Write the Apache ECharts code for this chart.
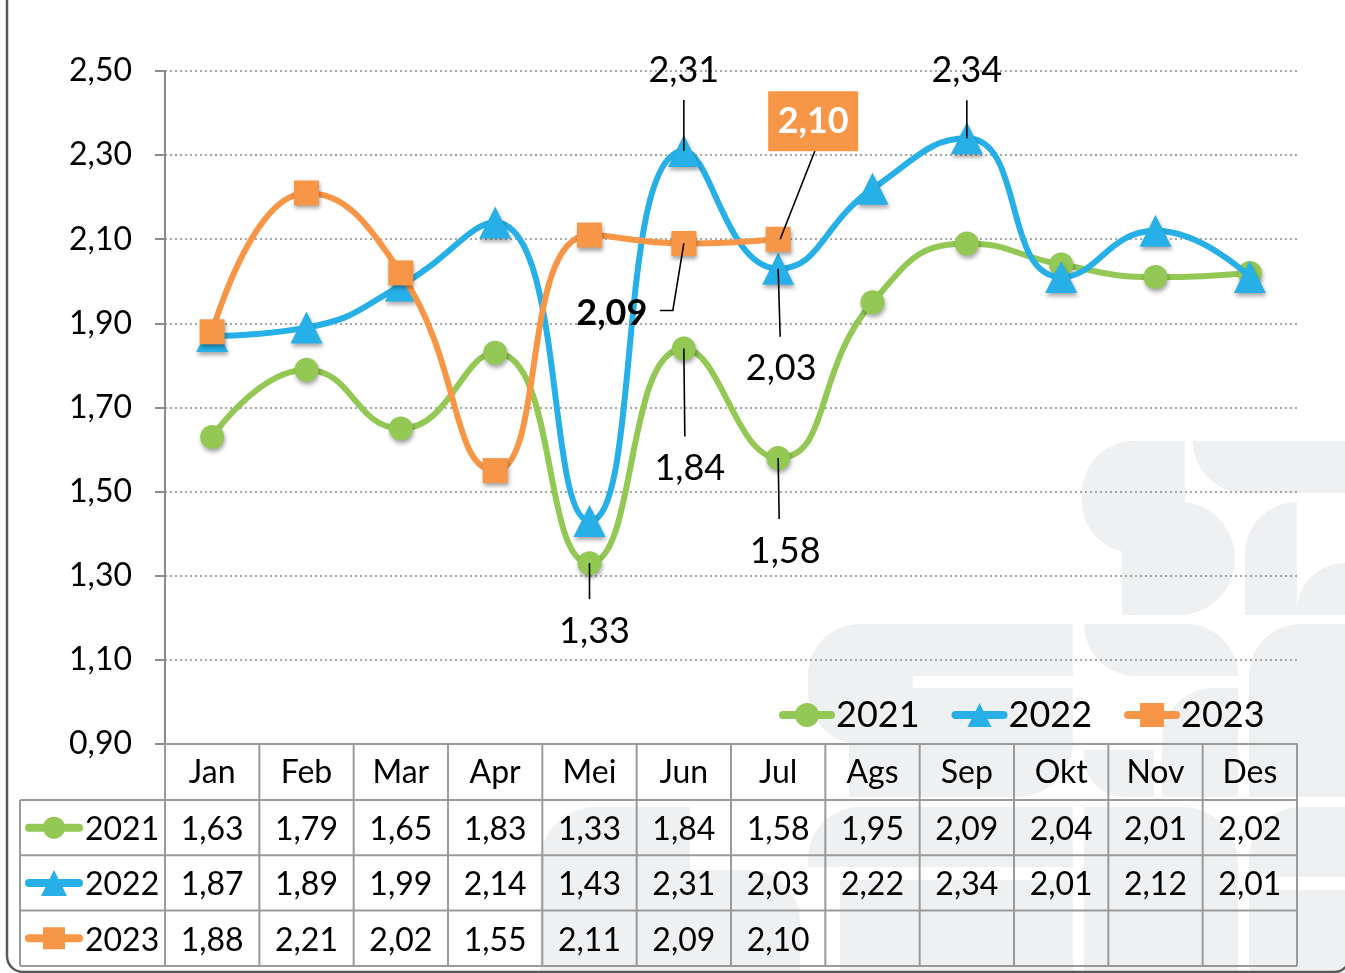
<!DOCTYPE html>
<html>
<head>
<meta charset="utf-8">
<script src="https://cdn.jsdelivr.net/npm/echarts@6/dist/echarts.min.js"></script>
<style>
  html, body { margin: 0; padding: 0; background: #ffffff; }
  #chart { width: 1345px; height: 973px; }
</style>
</head>
<body>
<div id="chart"></div>
<script>
// Monthly values per year
const months = ['Jan', 'Feb', 'Mar', 'Apr', 'Mei', 'Jun', 'Jul', 'Ags', 'Sep', 'Okt', 'Nov', 'Des'];
const yearNames = ['2021', '2022', '2023'];
const values2021 = [1.63, 1.79, 1.65, 1.83, 1.33, 1.84, 1.58, 1.95, 2.09, 2.04, 2.01, 2.02];
const values2022 = [1.87, 1.89, 1.99, 2.14, 1.43, 2.31, 2.03, 2.22, 2.34, 2.01, 2.12, 2.01];
const values2023 = [1.88, 2.21, 2.02, 1.55, 2.11, 2.09, 2.10];
const yMin = 0.9, yMax = 2.5, yStep = 0.2;

const GREEN = '#92c853', BLUE = '#27b0e7', ORANGE = '#f79646';
const FONT = 'Lato, "Noto Sans", sans-serif';
const fmt = v => v.toFixed(2).replace('.', ',');

const seriesDefs = [
  { name: yearNames[0], data: values2021, color: GREEN, symbol: 'circle', size: 24 },
  { name: yearNames[1], data: values2022, color: BLUE, symbol: 'triangle', size: 32 },
  { name: yearNames[2], data: values2023, color: ORANGE, symbol: 'rect', size: 25 }
];

const chart = echarts.init(document.getElementById('chart'), null, { renderer: 'canvas' });

chart.setOption({
  animation: false,
  backgroundColor: '#ffffff',
  grid: { left: 165, right: 48, top: 71, bottom: 229, containLabel: false },
  legend: {
    data: yearNames,
    left: 774, top: 692,
    itemWidth: 48, itemHeight: 30, itemGap: 32,
    lineStyle: { width: 8, cap: 'round' },
    itemStyle: { borderWidth: 0 },
    textStyle: { fontFamily: FONT, fontSize: 36, color: '#000' }
  },
  xAxis: {
    type: 'category',
    data: months,
    boundaryGap: true,
    axisLine: { show: true, lineStyle: { color: '#9a9a9a', width: 2 } },
    axisTick: { show: false },
    axisLabel: { fontFamily: FONT, fontSize: 32, color: '#000', margin: 9, lineHeight: 40 },
    splitLine: { show: false }
  },
  yAxis: {
    type: 'value',
    min: yMin, max: yMax, interval: yStep,
    axisLine: { show: true, lineStyle: { color: '#8c8c8c', width: 2 } },
    axisTick: { show: true, length: 10, lineStyle: { color: '#8c8c8c', width: 2 } },
    axisLabel: { fontFamily: FONT, fontSize: 32, color: '#000', margin: 33, formatter: v => fmt(v) },
    splitLine: { show: true, lineStyle: { color: '#8a8a8a', width: 1.5, type: [2, 3] } }
  },
  series: seriesDefs.map((d, k) => ({
    name: d.name,
    type: 'line',
    data: d.data,
    smooth: 0.5,
    symbol: d.symbol,
    symbolSize: d.size,
    z: 2 + k,
    lineStyle: { color: d.color, width: 6 },
    itemStyle: {
      color: d.color,
      shadowColor: 'rgba(0,0,0,0.35)', shadowBlur: 4, shadowOffsetX: 1, shadowOffsetY: 3
    },
    label: { show: false },
    emphasis: { disabled: true }
  }))
});

// Callout placement for selected points: label centre offset and leader line
const callouts = [
  { s: 0, i: 4, dx: 5, dy: 68, line: [[0, 0], [0, 36]] },
  { s: 0, i: 5, dx: 6, dy: 120, line: [[0, 0], [1, 88]] },
  { s: 0, i: 6, dx: 7, dy: 93, line: [[0, 0], [1, 61]] },
  { s: 1, i: 5, dx: 0, dy: -81, line: [[0, -51], [0, 0]] },
  { s: 1, i: 6, dx: 3, dy: 100, line: [[0, 0], [2, 68]] },
  { s: 1, i: 8, dx: 0, dy: -68, line: [[0, -38], [0, 0]] },
  { s: 2, i: 5, dx: -72, dy: 70, bold: true, line: [[0, 0], [-11, 67], [-24, 67]] },
  { s: 2, i: 6, dx: 35, dy: -118, box: true, line: [[2, 0], [37, -89]] }
];

// Faint background emblem shapes
const emblem = [
  [1082, 441, 103, 112, [52, 0, 0, 52]],
  [1122, 502, 113, 113, [0, 56, 56, 0]],
  [1193, 441, 152, 52, [0, 0, 0, 52]],
  [1245, 502, 52, 113, [52, 0, 0, 0]],
  [1297, 563, 48, 52, [48, 0, 0, 0]],
  [808, 624, 265, 52, [52, 0, 0, 0]],
  [808, 624, 105, 120, [52, 0, 0, 52]],
  [849, 688, 224, 109, [0, 0, 56, 0]],
  [1084, 624, 154, 52, [0, 52, 0, 52]],
  [1162, 688, 76, 109, [52, 0, 0, 0]],
  [1249, 624, 96, 173, [52, 0, 0, 0]],
  [1084, 750, 70, 47, [0, 0, 0, 40]],
  [540, 807, 150, 166, [56, 0, 0, 0]],
  [600, 870, 200, 103, [0, 52, 0, 0]],
  [808, 807, 265, 60, [52, 0, 0, 0]],
  [840, 880, 233, 93, [0, 0, 0, 0]],
  [1084, 807, 154, 166, [0, 56, 0, 0]],
  [1249, 807, 96, 70, [52, 0, 0, 0]],
  [1249, 890, 96, 83, [0, 0, 0, 0]]
];

function symbolShape(kind, cx, cy, color, sz) {
  if (kind === 'circle') return { type: 'circle', shape: { cx, cy, r: sz / 2 }, style: { fill: color } };
  if (kind === 'rect') return { type: 'rect', shape: { x: cx - sz / 2, y: cy - sz / 2, width: sz, height: sz }, style: { fill: color } };
  return { type: 'polygon', shape: { points: [[cx, cy - sz / 2], [cx + sz / 2, cy + sz / 2], [cx - sz / 2, cy + sz / 2]] }, style: { fill: color } };
}

function buildOverlay() {
  const g = [];
  const p0 = chart.convertToPixel({ gridIndex: 0 }, [0, yMin]);
  const p1 = chart.convertToPixel({ gridIndex: 0 }, [1, yMin]);
  const step = p1[0] - p0[0];
  const left = p0[0] - step / 2;
  const right = left + step * months.length;
  const axisY = p0[1];
  const headerH = 56, rowH = 55.3;
  const tableLeft = 20;
  const rowsTop = axisY + headerH;
  const tableBottom = rowsTop + rowH * seriesDefs.length;
  const gridColor = '#9a9a9a';

  // emblem
  emblem.forEach(([x, y, w, h, r]) => {
    g.push({ type: 'rect', z: -10, silent: true,
      shape: { x, y, width: w, height: Math.min(h, 973 - y), r },
      style: { fill: '#eff0f2' } });
  });

  // outer frame
  g.push({ type: 'rect', z: 50, silent: true,
    shape: { x: 7, y: -30, width: 1343, height: 1002, r: 16 },
    style: { fill: 'none', stroke: '#595959', lineWidth: 2.5 } });

  // data table grid
  for (let r = 0; r <= seriesDefs.length; r++) {
    const y = rowsTop + r * rowH;
    g.push({ type: 'line', z: 5, silent: true, shape: { x1: tableLeft, y1: y, x2: right, y2: y },
      style: { stroke: gridColor, lineWidth: 2 } });
  }
  g.push({ type: 'line', z: 5, silent: true, shape: { x1: tableLeft, y1: rowsTop, x2: tableLeft, y2: tableBottom },
    style: { stroke: gridColor, lineWidth: 2 } });
  for (let k = 0; k <= months.length; k++) {
    const x = left + k * step;
    g.push({ type: 'line', z: 5, silent: true, shape: { x1: x, y1: axisY, x2: x, y2: tableBottom },
      style: { stroke: gridColor, lineWidth: 2 } });
  }

  // table rows
  seriesDefs.forEach((d, r) => {
    const cy = rowsTop + (r + 0.5) * rowH;
    g.push({ type: 'line', z: 6, silent: true, shape: { x1: 29, y1: cy, x2: 79, y2: cy },
      style: { stroke: d.color, lineWidth: 8, lineCap: 'round' } });
    const ms = d.symbol === 'triangle' ? 26 : 22;
    g.push(Object.assign({ z: 7, silent: true }, symbolShape(d.symbol, 54, cy, d.color, ms)));
    g.push({ type: 'text', z: 7, silent: true,
      style: { x: 85, y: cy + 2, text: d.name, textAlign: 'left', textVerticalAlign: 'middle',
        fontFamily: FONT, fontSize: 32, fill: '#000' } });
    d.data.forEach((v, i) => {
      g.push({ type: 'text', z: 7, silent: true,
        style: { x: left + (i + 0.5) * step, y: cy + 2, text: fmt(v), textAlign: 'center', textVerticalAlign: 'middle',
          fontFamily: FONT, fontSize: 32, fill: '#000' } });
    });
  });

  // callouts
  callouts.forEach(c => {
    const d = seriesDefs[c.s];
    const v = d.data[c.i];
    const [px, py] = chart.convertToPixel({ gridIndex: 0 }, [c.i, v]);
    g.push({ type: 'polyline', z: 8, silent: true,
      shape: { points: c.line.map(([a, b]) => [px + a, py + b]) },
      style: { stroke: '#000', lineWidth: 1.6, fill: 'none' } });
    const lx = px + c.dx, ly = py + c.dy;
    if (c.box) {
      g.push({ type: 'rect', z: 9, silent: true,
        shape: { x: lx - 45, y: ly - 30, width: 90, height: 60 }, style: { fill: d.color } });
    }
    g.push({ type: 'text', z: 10, silent: true,
      style: { x: lx, y: ly, text: fmt(v), textAlign: 'center', textVerticalAlign: 'middle',
        fontFamily: FONT, fontSize: 36, fontWeight: (c.bold || c.box) ? 'bold' : 'normal',
        fill: c.box ? '#ffffff' : '#000' } });
  });

  chart.setOption({ graphic: { elements: g } });
}

buildOverlay();
</script>
</body>
</html>
